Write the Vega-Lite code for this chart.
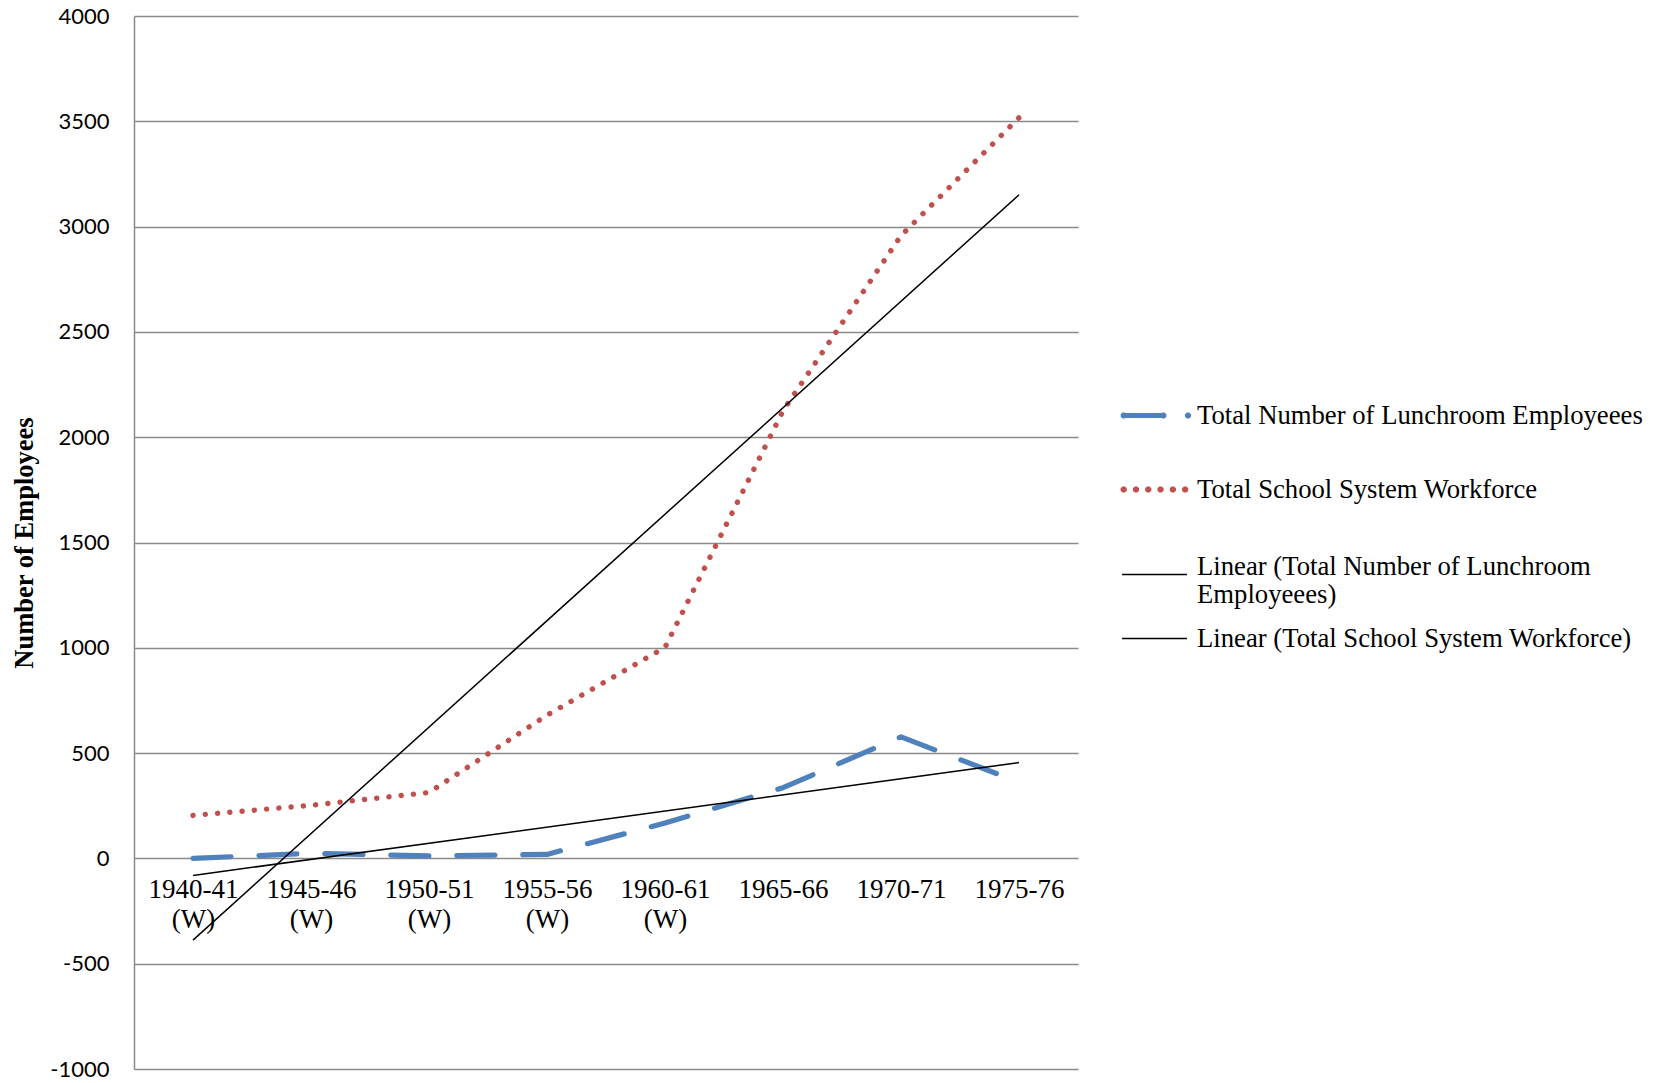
{
  "$schema": "https://vega.github.io/schema/vega-lite/v6.json",
  "width": 944,
  "height": 1053,
  "autosize": {"type": "none"},
  "padding": {"left": 134, "top": 16, "right": 580, "bottom": 14},
  "background": "white",
  "config": {"view": {"stroke": null}},
  "data": {
    "values": [
      {"period": "1940-41 (W)", "series": "Total Number of Lunchroom Employeees", "value": 0},
      {"period": "1945-46 (W)", "series": "Total Number of Lunchroom Employeees", "value": 24},
      {"period": "1950-51 (W)", "series": "Total Number of Lunchroom Employeees", "value": 12},
      {"period": "1955-56 (W)", "series": "Total Number of Lunchroom Employeees", "value": 19},
      {"period": "1960-61 (W)", "series": "Total Number of Lunchroom Employeees", "value": 168},
      {"period": "1965-66", "series": "Total Number of Lunchroom Employeees", "value": 336},
      {"period": "1970-71", "series": "Total Number of Lunchroom Employeees", "value": 577},
      {"period": "1975-76", "series": "Total Number of Lunchroom Employeees", "value": 362},
      {"period": "1940-41 (W)", "series": "Total School System Workforce", "value": 204},
      {"period": "1945-46 (W)", "series": "Total School System Workforce", "value": 252},
      {"period": "1950-51 (W)", "series": "Total School System Workforce", "value": 313},
      {"period": "1955-56 (W)", "series": "Total School System Workforce", "value": 680},
      {"period": "1960-61 (W)", "series": "Total School System Workforce", "value": 1002},
      {"period": "1965-66", "series": "Total School System Workforce", "value": 2125},
      {"period": "1970-71", "series": "Total School System Workforce", "value": 2957},
      {"period": "1975-76", "series": "Total School System Workforce", "value": 3517},
      {"period": "1940-41 (W)", "series": "Linear (Total Number of Lunchroom Employeees)", "value": -81},
      {"period": "1975-76", "series": "Linear (Total Number of Lunchroom Employeees)", "value": 455},
      {"period": "1940-41 (W)", "series": "Linear (Total School System Workforce)", "value": -388},
      {"period": "1975-76", "series": "Linear (Total School System Workforce)", "value": 3151}
    ]
  },
  "encoding": {
    "x": {
      "field": "period",
      "type": "nominal",
      "sort": null,
      "scale": {
        "type": "point",
        "padding": 0.5,
        "domain": ["1940-41 (W)", "1945-46 (W)", "1950-51 (W)", "1955-56 (W)", "1960-61 (W)", "1965-66", "1970-71", "1975-76"]
      },
      "axis": {
        "title": null,
        "orient": "bottom",
        "offset": -210.6,
        "domain": false,
        "ticks": false,
        "grid": false,
        "labelAngle": 0,
        "labelExpr": "split(datum.label, ' ')",
        "labelFont": "Liberation Serif",
        "labelFontSize": 27,
        "labelLineHeight": 30,
        "labelColor": "black",
        "labelPadding": 18
      }
    },
    "y": {
      "field": "value",
      "type": "quantitative",
      "scale": {"domain": [-1000, 4000], "nice": false, "zero": false},
      "axis": {
        "title": "Number of Employees",
        "titleFont": "Liberation Serif",
        "titleFontWeight": "bold",
        "titleFontSize": 26.5,
        "titleColor": "black",
        "titlePadding": 11,
        "values": [-1000, -500, 0, 500, 1000, 1500, 2000, 2500, 3000, 3500, 4000],
        "labelExpr": "'' + datum.value",
        "labelFont": "Lato",
        "labelFontSize": 22,
        "labelColor": "black",
        "labelPadding": 25,
        "ticks": false,
        "grid": true,
        "gridColor": "#8a8a8a",
        "gridWidth": 1.5,
        "domain": true,
        "domainColor": "#8a8a8a",
        "domainWidth": 1.5
      }
    }
  },
  "layer": [
    {
      "transform": [{"filter": {"field": "series", "equal": "Total Number of Lunchroom Employeees"}}],
      "mark": {"type": "line", "strokeWidth": 5.2, "strokeCap": "round", "strokeJoin": "round", "strokeDash": [38, 28]},
      "encoding": {
        "color": {
          "field": "series",
          "type": "nominal",
          "scale": {"domain": ["Total Number of Lunchroom Employeees"], "range": ["#4F81BD"]},
          "legend": {
            "orient": "none", "legendX": 984, "legendY": 363, "title": null, "padding": 0,
            "symbolType": "M-0.92,0H0.265 M-0.9089,0.0046l-0.0065,0.0065h-0.0092l-0.0065,-0.0065v-0.0092l0.0065,-0.0065h0.0092l0.0065,0.0065z M0.2761,0.0046l-0.0065,0.0065h-0.0092l-0.0065,-0.0065v-0.0092l0.0065,-0.0065h0.0092l0.0065,0.0065z M1.0111,0.0046l-0.0065,0.0065h-0.0092l-0.0065,-0.0065v-0.0092l0.0065,-0.0065h0.0092l0.0065,0.0065z",
            "symbolSize": 4489, "symbolStrokeWidth": 5.2, "symbolStrokeColor": "#4F81BD", "symbolFillColor": "#4F81BD",
            "labelFont": "Liberation Serif", "labelFontSize": 26.7, "labelColor": "black",
            "labelOffset": 6, "labelLimit": 700, "labelBaseline": "middle"
          }
        }
      }
    },
    {
      "transform": [{"filter": {"field": "series", "equal": "Total School System Workforce"}}],
      "mark": {"type": "line", "color": "#C0504D", "strokeCap": "round", "strokeJoin": "round", "strokeDash": [0.1, 12.2]},
      "encoding": {
        "strokeWidth": {
          "field": "series",
          "type": "nominal",
          "scale": {"type": "ordinal", "domain": ["Total School System Workforce"], "range": [5.4]},
          "legend": {
            "orient": "none", "legendX": 984, "legendY": 437, "title": null, "padding": 0,
            "symbolType": "M-0.9089,0.0046l-0.0065,0.0065h-0.0092l-0.0065,-0.0065v-0.0092l0.0065,-0.0065h0.0092l0.0065,0.0065z M-0.5419,0.0046l-0.0065,0.0065h-0.0092l-0.0065,-0.0065v-0.0092l0.0065,-0.0065h0.0092l0.0065,0.0065z M-0.1749,0.0046l-0.0065,0.0065h-0.0092l-0.0065,-0.0065v-0.0092l0.0065,-0.0065h0.0092l0.0065,0.0065z M0.1921,0.0046l-0.0065,0.0065h-0.0092l-0.0065,-0.0065v-0.0092l0.0065,-0.0065h0.0092l0.0065,0.0065z M0.5591,0.0046l-0.0065,0.0065h-0.0092l-0.0065,-0.0065v-0.0092l0.0065,-0.0065h0.0092l0.0065,0.0065z M0.9261,0.0046l-0.0065,0.0065h-0.0092l-0.0065,-0.0065v-0.0092l0.0065,-0.0065h0.0092l0.0065,0.0065z",
            "symbolSize": 4489, "symbolStrokeWidth": 5.2, "symbolStrokeColor": "#C0504D", "symbolFillColor": "#C0504D",
            "labelFont": "Liberation Serif", "labelFontSize": 26.7, "labelColor": "black",
            "labelOffset": 6, "labelLimit": 700, "labelBaseline": "middle"
          }
        }
      }
    },
    {
      "transform": [{"filter": {"field": "series", "equal": "Linear (Total Number of Lunchroom Employeees)"}}],
      "mark": {"type": "line", "strokeWidth": 1.5},
      "encoding": {
        "stroke": {
          "field": "series",
          "type": "nominal",
          "scale": {"domain": ["Linear (Total Number of Lunchroom Employeees)"], "range": ["black"]},
          "legend": {
            "orient": "none", "legendX": 987, "legendY": 525, "title": null, "padding": 0,
            "symbolType": "stroke", "symbolSize": 4225, "symbolStrokeWidth": 1.5, "symbolStrokeColor": "black",
            "labelFont": "Liberation Serif", "labelFontSize": 26.7, "labelColor": "black",
            "labelOffset": 9, "labelLimit": 700, "labelBaseline": "alphabetic",
            "labelExpr": "['Linear (Total Number of Lunchroom', 'Employeees)']"
          }
        }
      }
    },
    {
      "transform": [{"filter": {"field": "series", "equal": "Linear (Total School System Workforce)"}}],
      "mark": {"type": "line", "color": "black", "strokeWidth": 1.5},
      "encoding": {
        "opacity": {
          "field": "series",
          "type": "nominal",
          "scale": {"type": "ordinal", "domain": ["Linear (Total School System Workforce)"], "range": [1]},
          "legend": {
            "orient": "none", "legendX": 987, "legendY": 589, "title": null, "padding": 0,
            "symbolType": "stroke", "symbolSize": 4225, "symbolStrokeWidth": 1.5, "symbolStrokeColor": "black",
            "labelFont": "Liberation Serif", "labelFontSize": 26.7, "labelColor": "black",
            "labelOffset": 9, "labelLimit": 700, "labelBaseline": "middle"
          }
        }
      }
    }
  ]
}
